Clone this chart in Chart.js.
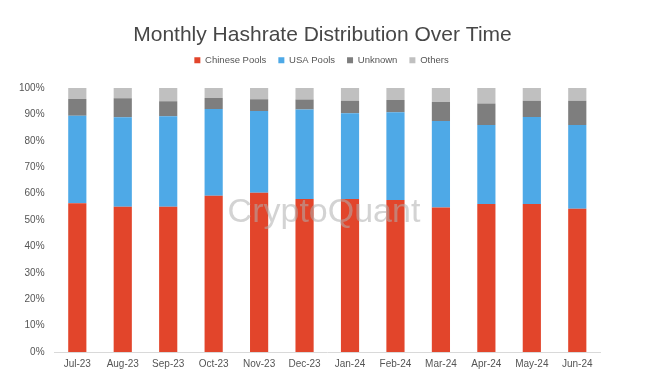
<!DOCTYPE html>
<html>
<head>
<meta charset="utf-8">
<script src="https://cdn.jsdelivr.net/npm/chart.js@4"></script>
<style>
  html, body { margin: 0; padding: 0; background: #fff; }
  #wrap { width: 648px; height: 380px; }
</style>
</head>
<body>
<div id="wrap"><canvas id="hashrate"></canvas></div>
<script>
var months = ["Jul-23", "Aug-23", "Sep-23", "Oct-23", "Nov-23", "Dec-23", "Jan-24", "Feb-24", "Mar-24", "Apr-24", "May-24", "Jun-24"];
var chinesePools = [56.3, 55.0, 55.0, 59.2, 60.3, 58.0, 58.0, 57.6, 54.7, 56.1, 56.1, 54.3];
var usaPools = [33.2, 33.9, 34.3, 32.8, 31.0, 33.9, 32.4, 33.2, 32.8, 29.9, 32.9, 31.7];
var unknown = [6.3, 7.2, 5.7, 4.2, 4.4, 3.7, 4.8, 4.7, 7.2, 8.1, 6.2, 9.2];
var others = [4.2, 3.9, 5.0, 3.8, 4.3, 4.4, 4.8, 4.5, 5.3, 5.9, 4.8, 4.8];

var FONT = '"Liberation Sans", Arial, sans-serif';

// faint watermark in the middle of the plot
var watermark = {
    id: 'watermark',
    afterDatasetsDraw: function(chart) {
        var c = chart.ctx;
        c.save();
        c.font = '34px ' + FONT;
        c.fillStyle = 'rgba(175,175,175,0.55)';
        c.textAlign = 'center';
        c.textBaseline = 'middle';
        c.fillText('CryptoQuant', chart.width / 2, 213);
        c.restore();
    }
};

// leave some room between the legend and the plot
var legendGap = {
    id: 'legendGap',
    beforeInit: function(chart) {
        var fit = chart.legend.fit;
        chart.legend.fit = function() {
            fit.bind(chart.legend)();
            this.height += 13;
        };
    },
    // title and legend are centred on the whole image, not on the padded box
    afterLayout: function(chart) {
        var t = chart.titleBlock, l = chart.legend;
        t.left += 18; t.right += 18; t.top += 2; t.bottom += 2;
        l.left += 17; l.right += 17;
    }
};

var ctx = document.getElementById('hashrate').getContext('2d');
var myChart = new Chart(ctx, {
    type: 'bar',
    data: {
        labels: months,
        datasets: [{
            label: 'Chinese Pools',
            data: chinesePools,
            backgroundColor: '#E2452B'},
          {
            label: 'USA Pools',
            data: usaPools,
            backgroundColor: '#4EA9E7'},
          {
            label: 'Unknown',
            data: unknown,
            backgroundColor: '#7E7E7E'},
          {
            label: 'Others',
            data: others,
            backgroundColor: '#C0C0C0'}
        ]
    },
    plugins: [legendGap, watermark],
    options: {
        responsive: true,
        maintainAspectRatio: false,
        animation: false,
        datasets: {
            bar: { barPercentage: 0.8, categoryPercentage: 0.5 }
        },
        layout: {
            padding: { left: 9, right: 48, top: 14, bottom: 4 }
        },
        plugins: {
            title: {
                display: true,
                text: 'Monthly Hashrate Distribution Over Time',
                color: '#474747',
                font: { size: 21, family: FONT, weight: 'normal', lineHeight: 1 },
                padding: { top: 8.5, bottom: 0 }
            },
            legend: {
                labels: {
                    boxWidth: 6,
                    boxHeight: 6,
                    color: '#555555',
                    padding: 12,
                    font: { size: 9.5, family: FONT }
                }
            },
            tooltip: { enabled: false }
        },
        scales: {
            x: {
                stacked: true,
                grid: { display: false, drawTicks: false },
                border: { color: '#D9D9D9' },
                ticks: {
                    color: '#555555',
                    padding: 6,
                    font: { size: 10, family: FONT }
                }
            },
            y: {
                stacked: true,
                min: 0,
                max: 100,
                grid: { display: false, drawTicks: false },
                border: { display: false },
                ticks: {
                    stepSize: 10,
                    color: '#555555',
                    padding: 10,
                    font: { size: 10, family: FONT },
                    callback: function(v) { return v + '%'; }
                }
            }
        }
    }
});
</script>
</body>
</html>
